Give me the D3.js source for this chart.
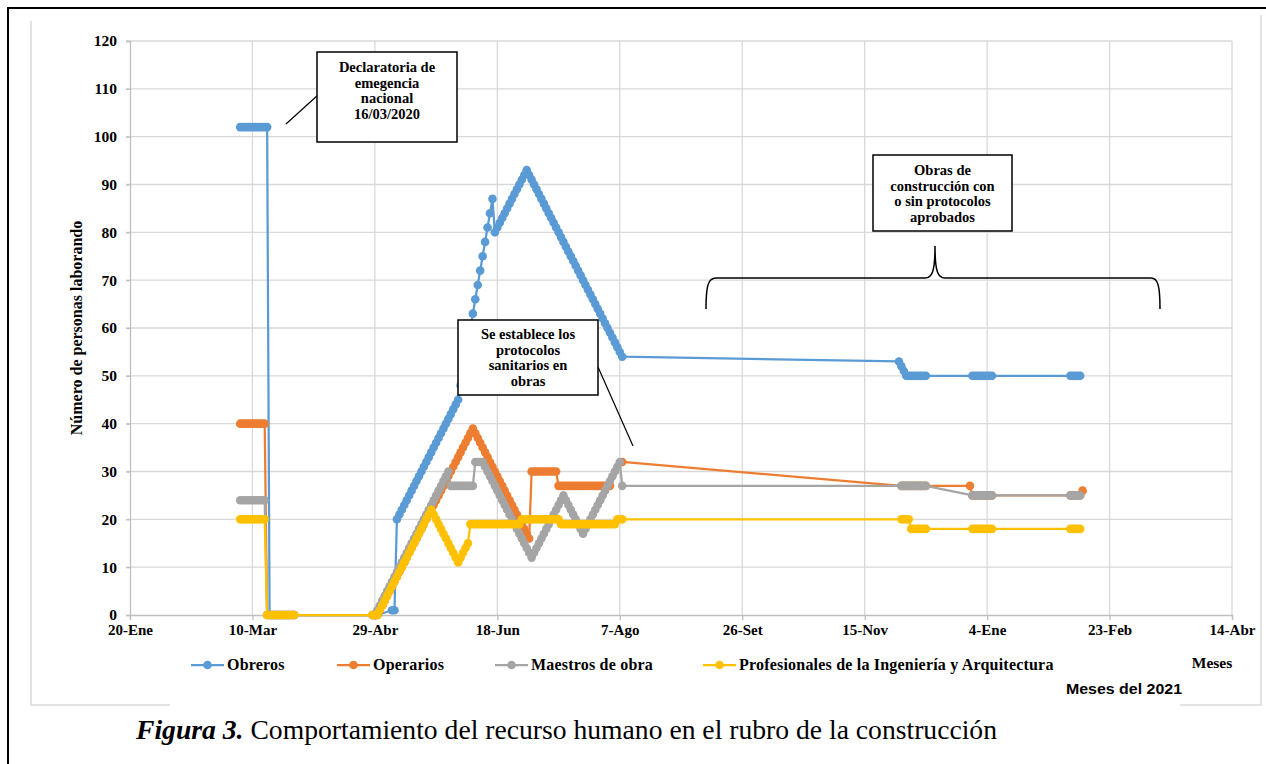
<!DOCTYPE html>
<html><head><meta charset="utf-8">
<script src="https://cdn.jsdelivr.net/npm/d3@7"></script>
<style>body{margin:0;background:#fff}svg{display:block}</style>
</head><body>
<svg id="c" width="1266" height="764"></svg>
<script>
// ---------- data ----------
const tickDates = ["2020-01-20","2020-03-10","2020-04-29","2020-06-18","2020-08-07","2020-09-26","2020-11-15","2021-01-04","2021-02-23","2021-04-14"];
const tickLabels = ["20-Ene","10-Mar","29-Abr","18-Jun","7-Ago","26-Set","15-Nov","4-Ene","23-Feb","14-Abr"];
const yTicks = [0,10,20,30,40,50,60,70,80,90,100,110,120];
const seriesNames = ["Obreros","Operarios","Maestros de obra","Profesionales de la Ingeniería y Arquitectura"];
const seriesColors = ["#5B9BD5","#ED7D31","#A5A5A5","#FFC000"];

// each run: [first date, values of consecutive days]
const obreros = [
  ["2020-03-05",[102,102,102,102,102,102,102,102,102,102,102,102]],
  ["2020-03-17",[0,0,0,0,0,0,0,0,0,0,0]],
  ["2020-04-28",[0,0,0]],
  ["2020-05-06",[1,1]],
  ["2020-05-08",[20,21,22,23,24,25,26,27,28,29,30,31,32,33,34,35,36,37,38,39,40,41,42,43,44,45,
                 48,51,54,57,60,63,66,69,72,75,78,81,84,87,
                 80,81,82,83,84,85,86,87,88,89,90,91,92,93,
                 92,91,90,89,88,87,86,85,84,83,82,81,80,79,78,77,76,75,74,73,72,71,70,69,68,67,66,65,64,63,62,61,60,59,58,57,56,55,54]],
  ["2020-11-29",[53,52,51,50,50,50,50,50,50,50,50,50]],
  ["2020-12-29",[50,50,50,50,50,50,50,50,50]],
  ["2021-02-07",[50,50,50,50,50]]
];
const operarios = [
  ["2020-03-05",[40,40,40,40,40,40,40,40,40,40,40]],
  ["2020-03-16",[0,0,0,0,0,0,0,0,0,0,0,0]],
  ["2020-04-28",[0,0,0,
                 1,2,3,4,5,6,7,8,9,10,11,12,13,14,15,16,17,18,19,20,21,22,23,24,25,26,27,28,29,30,31,32,33,34,35,36,37,38,39,
                 38,37,36,35,34,33,32,31,30,29,28,27,26,25,24,23,22,21,20,19,18,17,16,
                 30,30,30,30,30,30,30,30,30,30,30,
                 27,27,27,27,27,27,27,27,27,27,27,27,27,27,27,27,27,27,27,27,27,27]],
  ["2020-08-08",[32]],
  ["2020-11-30",[27,27,27,27,27,27,27,27,27,27,27]],
  ["2020-12-28",[27,25,25,25,25,25,25,25,25,25]],
  ["2021-02-07",[25,25,25,25,25,26]]
];
const maestros = [
  ["2020-03-05",[24,24,24,24,24,24,24,24,24,24,24]],
  ["2020-03-16",[0,0,0,0,0,0,0,0,0,0,0,0]],
  ["2020-04-28",[0,0,
                 1,2,3,4,5,6,7,8,9,10,11,12,13,14,15,16,17,18,19,20,21,22,23,24,25,26,27,28,29,30,
                 27,27,27,27,27,27,27,27,27,27,
                 32,32,32,32,
                 31,30,29,28,27,26,25,24,23,22,21,20,19,18,17,16,15,14,13,12,
                 13,14,15,16,17,18,19,20,21,22,23,24,25,
                 24,23,22,21,20,19,18,17,
                 18,19,20,21,22,23,24,25,26,27,28,29,30,31,32,
                 27]],
  ["2020-11-30",[27,27,27,27,27,27,27,27,27,27,27]],
  ["2020-12-29",[25,25,25,25,25,25,25,25,25]],
  ["2021-02-07",[25,25,25,25,25]]
];
const profesionales = [
  ["2020-03-05",[20,20,20,20,20,20,20,20,20,20,20]],
  ["2020-03-16",[0,0,0,0,0,0,0,0,0,0,0,0]],
  ["2020-04-28",[0,0,0,
                 1,2,3,4,5,6,7,8,9,10,11,12,13,14,15,16,17,18,19,20,21,22,
                 21,20,19,18,17,16,15,14,13,12,11,
                 12,13,14,15,
                 19,19,19,19,19,19,19,19,19,19,19,19,19,19,19,19,19,19,19,19,19,
                 20,20,20,20,20,20,20,20,20,20,20,20,20,20,20,20,
                 19,19,19,19,19,19,19,19,19,19,19,19,19,19,19,19,19,19,19,19,19,19,19,
                 20,20,20]],
  ["2020-11-30",[20,20,20,20,18,18,18,18,18,18,18]],
  ["2020-12-29",[18,18,18,18,18,18,18,18,18]],
  ["2021-02-07",[18,18,18,18,18]]
];
const allSeries = [obreros, operarios, maestros, profesionales];

// ---------- drawing ----------
const svg = d3.select("#c");
const parse = d3.timeParse("%Y-%m-%d");
const W = 1266, H = 764;
const serif = "'Liberation Serif', 'Times New Roman', Times, serif";
const x = d3.scaleTime().domain([parse(tickDates[0]), parse(tickDates[tickDates.length-1])]).range([130, 1232]);
const y = d3.scaleLinear().domain([0, 120]).range([615, 41]);

svg.append("rect").attr("width", W).attr("height", H).attr("fill", "#fff");
// outer black frame
svg.append("path").attr("d", "M8,770 L8,8 L1270,8").attr("fill","none").attr("stroke","#000").attr("stroke-width",2);
// chart area border (light)
svg.append("path").attr("d", "M31,21 L31,705 L1261,705 L1261,15").attr("fill","none").attr("stroke","#D9D9D9").attr("stroke-width",1.5);

// grid
const grid = svg.append("g");
grid.selectAll("line.h").data(yTicks.slice(1)).join("line")
  .attr("x1", 126).attr("x2", 1232).attr("y1", d => y(d)).attr("y2", d => y(d))
  .attr("stroke", "#D9D9D9").attr("stroke-width", 1.3);
grid.selectAll("line.v").data(tickDates.slice(1)).join("line")
  .attr("x1", d => x(parse(d))).attr("x2", d => x(parse(d))).attr("y1", y(120)).attr("y2", y(0))
  .attr("stroke", "#D9D9D9").attr("stroke-width", 1.3);

// axes
const xAxis = d3.axisBottom(x).tickValues(tickDates.map(parse)).tickSize(5)
  .tickFormat((d, i) => tickLabels[i]);
const gx = svg.append("g").attr("transform", `translate(0,${y(0)})`).call(xAxis);
gx.attr("font-family", null);
gx.select(".domain").attr("stroke", "#BFBFBF").attr("stroke-width", 1.3);
gx.selectAll(".tick line").attr("stroke", "#BFBFBF").attr("stroke-width", 1.3);
gx.selectAll(".tick text").style("font-family", serif)
  .style("font-weight", "bold").style("font-size", "15px").attr("fill", "#000").attr("dy", "0.95em").attr("y", 6);

const yAxis = d3.axisLeft(y).tickValues(yTicks).tickSize(4);
const gy = svg.append("g").attr("transform", `translate(130,0)`).call(yAxis);
gy.attr("font-family", null);
gy.select(".domain").attr("stroke", "#BFBFBF").attr("stroke-width", 1.3);
gy.selectAll(".tick line").attr("stroke", "#BFBFBF").attr("stroke-width", 1.3);
gy.selectAll(".tick text").style("font-family", serif)
  .style("font-weight", "bold").style("font-size", "15.5px").attr("fill", "#000").attr("x", -13);

// y axis title
svg.append("text").attr("transform", "translate(82,328) rotate(-90)")
  .attr("text-anchor", "middle").style("font-family", serif)
  .style("font-weight", "bold").style("font-size", "16px").text("Número de personas laborando");

// series
function flatten(runs) {
  const pts = [];
  runs.forEach(([start, vals]) => {
    const s = parse(start);
    vals.forEach((v, i) => pts.push({ date: d3.timeDay.offset(s, i), value: v }));
  });
  return pts;
}
const line = d3.line().x(d => x(d.date)).y(d => y(d.value));
allSeries.forEach((runs, si) => {
  const pts = flatten(runs);
  const g = svg.append("g");
  g.append("path").datum(pts).attr("d", line).attr("fill", "none")
    .attr("stroke", seriesColors[si]).attr("stroke-width", 2.25).attr("stroke-linejoin", "round");
  g.selectAll("circle").data(pts).join("circle")
    .attr("cx", d => x(d.date)).attr("cy", d => y(d.value)).attr("r", 4.3)
    .attr("fill", seriesColors[si]);
});

// annotations
function box(x0, y0, w, h, lines, lineH, firstY) {
  svg.append("rect").attr("x", x0).attr("y", y0).attr("width", w).attr("height", h)
    .attr("fill", "#fff").attr("stroke", "#000").attr("stroke-width", 1.5);
  const t = svg.append("text").attr("text-anchor", "middle").style("font-family", serif)
    .style("font-weight", "bold").style("font-size", "14.5px");
  lines.forEach((l, i) => t.append("tspan").attr("x", x0 + w / 2).attr("y", firstY + i * lineH).text(l));
}
svg.append("line").attr("x1", 286).attr("y1", 124).attr("x2", 318).attr("y2", 95).attr("stroke", "#000").attr("stroke-width", 1.2);
box(317, 52, 140, 90, ["Declaratoria de", "emegencia", "nacional", "16/03/2020"], 15.5, 72);
svg.append("line").attr("x1", 598).attr("y1", 367).attr("x2", 633).attr("y2", 446).attr("stroke", "#000").attr("stroke-width", 1.2);
box(458, 320, 140, 75, ["Se establece los", "protocolos", "sanitarios en", "obras"], 15.5, 339);
box(873, 155, 139, 76, ["Obras de", "construcción con", "o sin protocolos", "aprobados"], 15.5, 175);
// brace
svg.append("path")
  .attr("d", "M706,309 C706,286 708,278 716,278 L925,278 C932,278 935,272 935,246 C935,272 938,278 945,278 L1151,278 C1158,278 1160,286 1160,309")
  .attr("fill", "none").attr("stroke", "#000").attr("stroke-width", 1.5);

// legend
const legendX = [191, 337, 495, 703];
const lg = svg.append("g");
seriesNames.forEach((n, i) => {
  const gx0 = legendX[i];
  lg.append("line").attr("x1", gx0).attr("x2", gx0 + 33).attr("y1", 665).attr("y2", 665)
    .attr("stroke", seriesColors[i]).attr("stroke-width", 2.25);
  lg.append("circle").attr("cx", gx0 + 16.5).attr("cy", 665).attr("r", 4.3).attr("fill", seriesColors[i]);
  lg.append("text").attr("x", gx0 + 36).attr("y", 670).style("font-family", serif)
    .style("font-weight", "bold").style("font-size", "16px").style("letter-spacing", "0.2px").text(n);
});
svg.append("text").attr("x", 1212).attr("y", 668).attr("text-anchor", "middle").style("font-family", serif)
  .style("font-weight", "bold").style("font-size", "15.5px").text("Meses");

// caption box covering chart-area border
svg.append("rect").attr("x", 170).attr("y", 700).attr("width", 1010).attr("height", 50).attr("fill", "#fff");
svg.append("text").attr("x", 1066).attr("y", 694).style("font-family", "'Liberation Sans', Arial, sans-serif")
  .style("font-weight", "bold").style("font-size", "15px")
  .attr("textLength", 116).attr("lengthAdjust", "spacingAndGlyphs").text("Meses del 2021");
const cap = svg.append("text").attr("x", 136).attr("y", 739).style("font-family", serif).style("font-size", "27px")
  .attr("textLength", 861).attr("lengthAdjust", "spacingAndGlyphs");
cap.append("tspan").style("font-weight", "bold").style("font-style", "italic").text("Figura 3.");
cap.append("tspan").text(" Comportamiento del recurso humano en el rubro de la construcción");
</script>
</body></html>
